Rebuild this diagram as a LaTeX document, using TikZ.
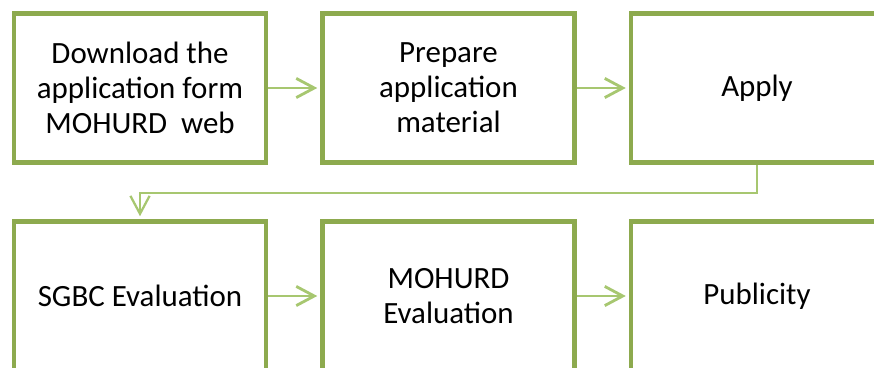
\documentclass[tikz,border=0pt]{standalone}
\usepackage{fontspec}
\setmainfont{Carlito}
\usepackage{tikz}
\usetikzlibrary{arrows.meta,calc}
\usepackage{xcolor}
\definecolor{boxgreen}{RGB}{141,170,78}
\definecolor{arrowgreen}{RGB}{167,199,112}

\tikzset{
  stepbox/.style={draw=boxgreen, line width=3.5pt, fill=white, minimum width=6.3cm,
    minimum height=3.725cm, inner sep=0pt, align=center,
    font=\fontsize{22}{24.9}\selectfont},
  flow/.style={draw=arrowgreen, line width=2pt,
    -{Straight Barb[length=0.45cm,width=0.48cm]}, shorten >=2pt}
}

\begin{document}
\begin{tikzpicture}
    \clip (0,0) rectangle (21.85,9.175);
    \fill[white] (0,0) rectangle (21.85,9.175);

    % First row
    \node[stepbox] (download) at (3.5,6.975) {Download the\\application form\\MOHURD\ \ web};
    \node[stepbox] (prepare) at (11.2125,6.975) {Prepare\\application\\material};
    \node[stepbox] (apply) at (18.925,6.975) {Apply};
    \draw[flow] (download) -- (prepare);
    \draw[flow] (prepare) -- (apply);

    % Second row
    \node[stepbox] (sgbc) at (3.5,1.775) {SGBC Evaluation};
    \node[stepbox] (mohurd) at (11.2125,1.775) {MOHURD\\Evaluation};
    \node[stepbox] (publicity) at (18.925,1.775) {Publicity};
    \draw[flow] (sgbc) -- (mohurd);
    \draw[flow] (mohurd) -- (publicity);

    % Turn down to the second row
    \draw[flow, line width=1.6pt] (apply.south) -- ++(0,-0.7) -| (sgbc.north);
\end{tikzpicture}
\end{document}
